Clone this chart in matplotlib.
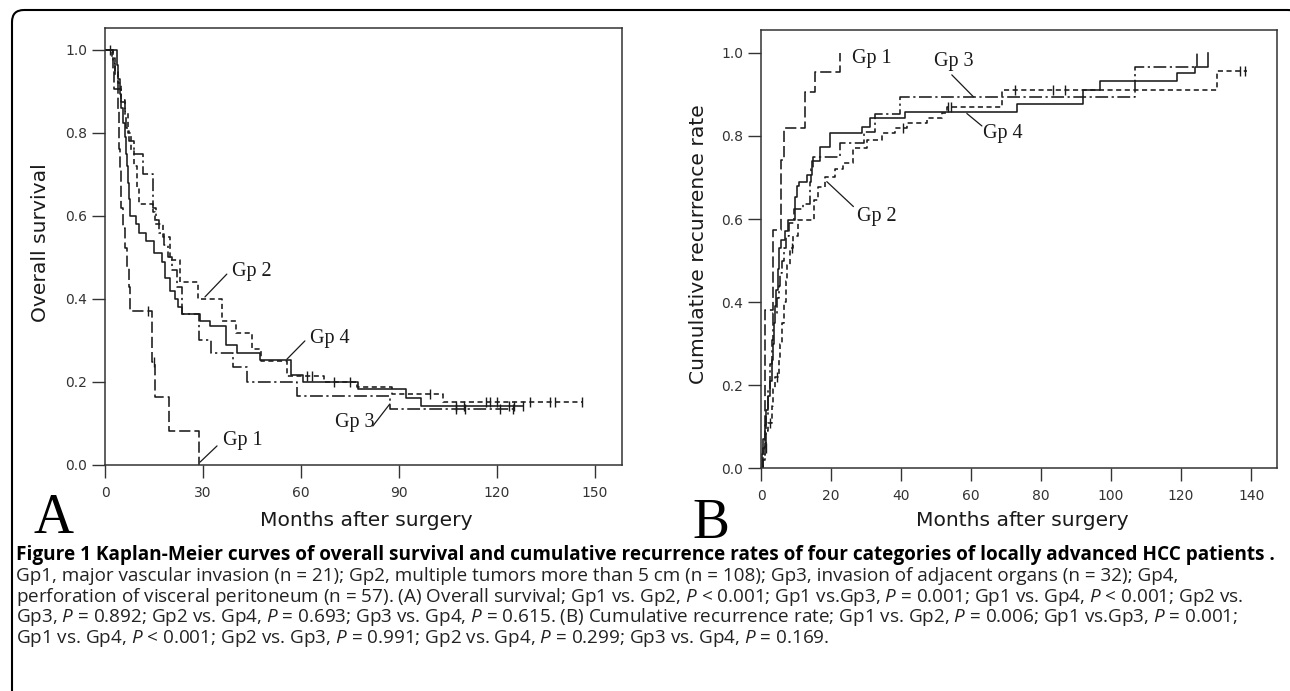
import numpy as np
import matplotlib
matplotlib.use("Agg")
import matplotlib.pyplot as plt
from matplotlib.patches import FancyBboxPatch

plt.rcParams['mathtext.fontset'] = 'custom'
plt.rcParams['mathtext.it'] = 'Open Sans:italic'
plt.rcParams['mathtext.rm'] = 'Open Sans'

# ---- (A) overall survival ----
a_gp1_t = [0, 2.3, 2.7, 4.0, 4.2, 4.4, 4.6, 4.8, 5.0, 5.5, 6.0, 6.6, 7.2, 7.6, 14.4, 15.2, 19.6, 28.8]
a_gp1_s = [1.0, 0.952, 0.905, 0.857, 0.81, 0.762, 0.714, 0.667, 0.619, 0.571, 0.524, 0.476, 0.429, 0.37, 0.247, 0.165, 0.082, 0.0]
a_gp1_c = [13.2, 15.0]

a_gp2_t = [0, 2.0, 3.0, 4.0, 5.0, 6.0, 7.0, 8.0, 9.0, 9.8, 10.3, 14.8, 15.4, 17.8, 19.9, 23.0, 28.5, 35.8,
           40.0, 44.9, 47.8, 55.6, 67.0, 77.2, 88.0, 103.6, 145.9]
a_gp2_s = [1.0, 0.98, 0.95, 0.92, 0.88, 0.85, 0.80, 0.76, 0.72, 0.67, 0.63, 0.61, 0.58, 0.55, 0.495, 0.44, 0.40, 0.347,
           0.319, 0.279, 0.25, 0.214, 0.199, 0.187, 0.17, 0.151, 0.151]
a_gp2_c = [62.0, 63.5, 70.0, 99.5, 116.8, 117.8, 119.9, 130.1, 136.2, 137.7, 145.9]

a_gp3_t = [0, 2.5, 3.0, 4.0, 5.0, 6.0, 6.5, 7.5, 9.0, 11.7, 14.6, 15.5, 16.5, 18.0, 19.3, 20.5, 22.0, 23.5,
           28.7, 32.4, 39.2, 43.5, 58.7, 87.2, 125.5]
a_gp3_s = [1.0, 0.969, 0.938, 0.906, 0.875, 0.844, 0.813, 0.78, 0.75, 0.70, 0.62, 0.59, 0.56, 0.53, 0.50, 0.47, 0.43, 0.363,
           0.30, 0.27, 0.235, 0.199, 0.166, 0.134, 0.134]
a_gp3_c = [107.6, 110.2, 120.9, 125.0]

a_gp4_t = [0, 3.6, 4.0, 4.5, 5.0, 5.5, 6.0, 6.5, 6.8, 7.0, 7.3, 7.6, 9.5, 10.5, 12.5, 15.0, 17.5, 18.5, 20.0, 21.5,
           22.5, 23.5, 29.1, 32.3, 37.2, 40.3, 47.4, 57.1, 60.7, 77.5, 92.3, 96.9, 128.0]
a_gp4_s = [1.0, 0.965, 0.93, 0.895, 0.86, 0.825, 0.79, 0.75, 0.72, 0.68, 0.64, 0.60, 0.58, 0.56, 0.54, 0.51, 0.49, 0.45,
           0.42, 0.40, 0.38, 0.363, 0.347, 0.335, 0.29, 0.27, 0.253, 0.217, 0.199, 0.184, 0.162, 0.141, 0.141]
a_gp4_c = [1.5, 75.0, 107.6, 110.0, 123.6, 125.1, 128.0]

# ---- (B) cumulative recurrence rate ----
b_gp1_t = [0, 0.5, 1.1, 3.5, 5.6, 6.6, 12.6, 15.4, 22.6]
b_gp1_v = [0, 0.05, 0.38, 0.573, 0.742, 0.818, 0.906, 0.954, 1.0]

b_gp2_t = [0, 0.5, 1.0, 1.5, 2.0, 3.0, 3.5, 4.0, 5.0, 5.5, 6.0, 6.5, 7.0, 7.5, 8.2, 9.2, 10.5, 15.0, 16.4, 18.3,
           21.1, 23.5, 26.4, 30.2, 34.5, 38.3, 41.6, 47.3, 51.6, 53.0, 68.9, 130.2, 138.8]
b_gp2_v = [0, 0.02, 0.05, 0.09, 0.11, 0.15, 0.19, 0.22, 0.26, 0.30, 0.35, 0.40, 0.45, 0.49, 0.53, 0.56, 0.597, 0.646,
           0.678, 0.70, 0.72, 0.734, 0.77, 0.79, 0.806, 0.818, 0.83, 0.842, 0.856, 0.87, 0.91, 0.957, 0.957]
b_gp2_c = [1.4, 2.6, 4.5, 8.8, 40.7, 53.5, 54.2, 72.6, 83.5, 86.9, 136.9, 138.3]

b_gp3_t = [0, 0.5, 1.0, 1.3, 2.0, 2.5, 3.0, 3.4, 4.5, 5.0, 5.5, 6.0, 6.5, 7.2, 8.0, 9.5, 11.9, 14.0, 14.4, 14.9,
           22.6, 29.4, 32.6, 39.7, 106.9, 124.5]
b_gp3_v = [0, 0.03, 0.06, 0.125, 0.19, 0.25, 0.31, 0.375, 0.41, 0.44, 0.47, 0.5, 0.53, 0.56, 0.59, 0.625, 0.637, 0.69,
           0.72, 0.75, 0.782, 0.81, 0.854, 0.894, 0.967, 1.0]

b_gp4_t = [0, 0.3, 0.6, 1.0, 1.5, 2.0, 2.5, 3.0, 3.3, 3.6, 4.0, 4.4, 4.8, 5.2, 5.6, 6.9, 7.7, 9.7, 10.3, 10.9,
           13.1, 14.5, 16.9, 19.7, 28.8, 31.1, 41.1, 73.1, 92.1, 96.9, 118.8, 124.0, 127.8]
b_gp4_v = [0, 0.035, 0.07, 0.105, 0.14, 0.175, 0.21, 0.26, 0.30, 0.35, 0.39, 0.43, 0.48, 0.53, 0.55, 0.57, 0.597, 0.653,
           0.68, 0.69, 0.705, 0.74, 0.774, 0.806, 0.822, 0.842, 0.858, 0.878, 0.91, 0.932, 0.951, 0.967, 1.0]

caption = [
    "Gp1, major vascular invasion (n = 21); Gp2, multiple tumors more than 5 cm (n = 108); Gp3, invasion of adjacent organs (n = 32); Gp4,",
    "perforation of visceral peritoneum (n = 57). (A) Overall survival; Gp1 vs. Gp2, $P$ < 0.001; Gp1 vs.Gp3, $P$ = 0.001; Gp1 vs. Gp4, $P$ < 0.001; Gp2 vs.",
    "Gp3, $P$ = 0.892; Gp2 vs. Gp4, $P$ = 0.693; Gp3 vs. Gp4, $P$ = 0.615. (B) Cumulative recurrence rate; Gp1 vs. Gp2, $P$ = 0.006; Gp1 vs.Gp3, $P$ = 0.001;",
    "Gp1 vs. Gp4, $P$ < 0.001; Gp2 vs. Gp3, $P$ = 0.991; Gp2 vs. Gp4, $P$ = 0.299; Gp3 vs. Gp4, $P$ = 0.169.",
]
title = "Figure 1 Kaplan-Meier curves of overall survival and cumulative recurrence rates of four categories of locally advanced HCC patients ."

INK = '#1a1a1a'
styles = {
    'gp1': dict(dashes=(7, 2.5)),
    'gp2': dict(dashes=(3.2, 2.2)),
    'gp3': dict(dashes=(8, 2.2, 1.4, 2.2)),
    'gp4': dict(linestyle='-'),
}


def km(ax, t, v, style, cens=None):
    ax.step(t, v, where='post', color=INK, lw=1.15, **style)
    if cens:
        t = np.asarray(t)
        v = np.asarray(v)
        idx = np.searchsorted(t, cens, side='right') - 1
        ax.plot(cens, v[idx], ls='none', marker='|', ms=7, mew=1.0, color=INK)


def style_axes(ax, xmax, xticks, ymax):
    ax.set_xlim(0, xmax)
    ax.set_ylim(0, ymax)
    ax.set_xticks(xticks)
    ax.set_yticks(np.arange(0, 1.01, 0.2))
    ax.set_yticklabels(['%.1f' % y for y in np.arange(0, 1.01, 0.2)])
    for s in ax.spines.values():
        s.set_color('#333333')
        s.set_linewidth(1.1)
    ax.tick_params(direction='out', length=9.5, width=1.0, colors='#333333', labelsize=10)
    ax.tick_params(axis='x', pad=5.5)
    ax.tick_params(axis='y', pad=3.5)


fig = plt.figure(figsize=(12.9, 6.91), dpi=100)

# page / frame layer in pixel coords
bg = fig.add_axes([0, 0, 1, 1], zorder=-1)
bg.set_xlim(0, 1290)
bg.set_ylim(691, 0)
bg.axis('off')
bg.add_patch(FancyBboxPatch((12, 10), 1288, 720, boxstyle="round,pad=0,rounding_size=12",
                            fill=False, lw=1.5, ec='black', clip_on=False))

axA = fig.add_axes([105 / 1290, 1 - 465 / 691, 516.7 / 1290, 437 / 691])
km(axA, a_gp1_t, a_gp1_s, styles['gp1'], a_gp1_c)
km(axA, a_gp2_t, a_gp2_s, styles['gp2'], a_gp2_c)
km(axA, a_gp3_t, a_gp3_s, styles['gp3'], a_gp3_c)
km(axA, a_gp4_t, a_gp4_s, styles['gp4'], a_gp4_c)
style_axes(axA, 158.2, [0, 30, 60, 90, 120, 150], 1.053)

lab = dict(family='Liberation Serif', fontsize=14.5, color=INK, va='center')
arr = dict(arrowstyle='-', color=INK, lw=0.9, shrinkA=0, shrinkB=0)
axA.annotate('', xy=(30.6, 0.405), xytext=(37.3, 0.460), arrowprops=arr)
axA.text(38.9, 0.467, 'Gp 2', ha='left', **lab)
axA.annotate('', xy=(55.7, 0.255), xytext=(61.2, 0.299), arrowprops=arr)
axA.text(62.7, 0.304, 'Gp 4', ha='left', **lab)
axA.annotate('', xy=(87.2, 0.147), xytext=(82.0, 0.094), arrowprops=arr)
axA.text(82.5, 0.103, 'Gp 3', ha='right', **lab)
axA.annotate('', xy=(29.1, 0.007), xytext=(34.3, 0.046), arrowprops=arr)
axA.text(36.1, 0.059, 'Gp 1', ha='left', **lab)

axB = fig.add_axes([761 / 1290, 1 - 468.3 / 691, 515.7 / 1290, 438.3 / 691])
km(axB, b_gp1_t, b_gp1_v, styles['gp1'])
km(axB, b_gp2_t, b_gp2_v, styles['gp2'], b_gp2_c)
km(axB, b_gp3_t, b_gp3_v, styles['gp3'])
km(axB, b_gp4_t, b_gp4_v, styles['gp4'])
style_axes(axB, 147.3, np.arange(0, 141, 20), 1.055)

axB.text(26.0, 0.987, 'Gp 1', ha='left', **lab)
axB.annotate('', xy=(60.7, 0.894), xytext=(54.5, 0.947), arrowprops=arr)
axB.text(49.4, 0.979, 'Gp 3', ha='left', **lab)
axB.annotate('', xy=(58.8, 0.854), xytext=(63.1, 0.824), arrowprops=arr)
axB.text(63.4, 0.806, 'Gp 4', ha='left', **lab)
axB.annotate('', xy=(18.8, 0.69), xytext=(26.4, 0.63), arrowprops=arr)
axB.text(27.4, 0.606, 'Gp 2', ha='left', **lab)

# axis titles and panel letters
sans = dict(family='DejaVu Sans', fontsize=14.6, color=INK)
bg.text(41, 243, 'Overall survival', rotation=90, ha='center', va='center', **sans)
bg.text(698, 244, 'Cumulative recurrence rate', rotation=90, ha='center', va='center', **sans)
bg.text(366, 520, 'Months after surgery', ha='center', va='center', **sans)
bg.text(1022, 521, 'Months after surgery', ha='center', va='center', **sans)
bg.text(33, 533, 'A', family='Liberation Serif', fontsize=40, ha='left', va='baseline')
bg.text(692, 538, 'B', family='Liberation Serif', fontsize=40, ha='left', va='baseline')

# caption
bg.text(16, 555, title, family='Open Sans', fontweight='bold', fontsize=13.65, ha='left', va='center')
for i, line in enumerate(caption):
    bg.text(16, 576 + i * 20.7, line, family='Open Sans', fontsize=13.6, ha='left', va='center', color='#222222')

fig.savefig('out.png', dpi=100)
